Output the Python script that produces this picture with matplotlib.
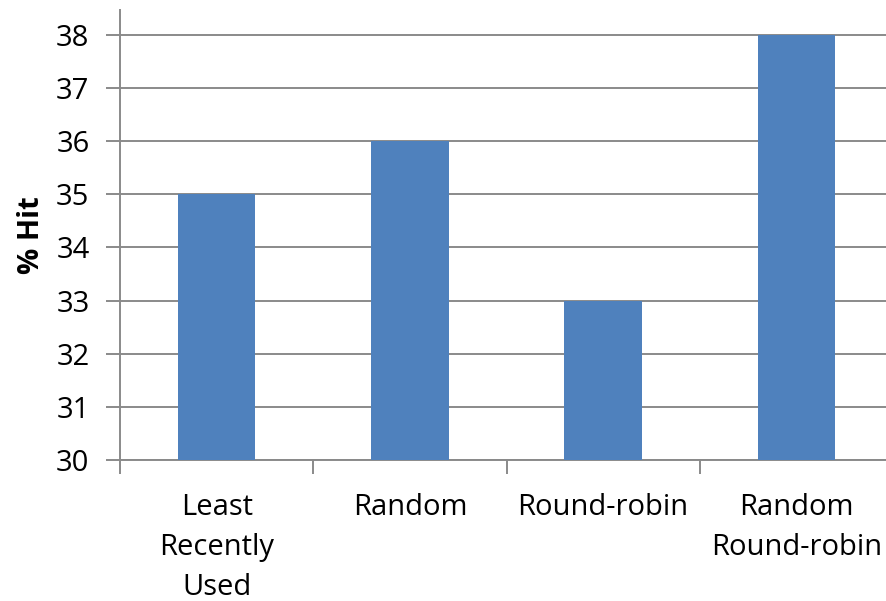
import matplotlib
matplotlib.use("Agg")
import matplotlib.pyplot as plt

policies = ["Least\nRecently\nUsed", "Random", "Round-robin", "Random\nRound-robin"]
hit_pct = [35, 36, 33, 38]
y_ticks = [30, 31, 32, 33, 34, 35, 36, 37, 38]

plt.rcParams["font.family"] = ["Open Sans", "DejaVu Sans"]

fig = plt.figure(figsize=(8.86, 6.01), dpi=100)
ax = fig.add_axes([120 / 886, 141 / 601, 773 / 886, 450 / 601])

grey = "#8a8a8a"
x = range(len(policies))
ax.bar(x, hit_pct, width=0.4, color="#4f81bd", zorder=3)

ax.set_xlim(-0.5, len(policies) - 0.5)
ax.set_ylim(30, 38.47)
ax.set_yticks(y_ticks)
ax.yaxis.grid(True, color=grey, linewidth=1.4, zorder=0)

# category ticks sit between the bars
ax.set_xticks([i - 0.5 for i in range(len(policies) + 1)])
ax.set_xticklabels([])
ax.set_xticks(list(x), labels=policies, minor=True)
ax.tick_params(axis="x", which="major", length=10, width=1.4, color=grey, direction="out")
ax.tick_params(axis="x", which="minor", length=0, pad=24, labelsize=21)
ax.tick_params(axis="y", length=10, width=1.4, color=grey, labelsize=21, pad=12)
for lbl in ax.get_xticklabels(minor=True):
    lbl.set_linespacing(1.5)

for side in ("top", "right"):
    ax.spines[side].set_visible(False)
for side in ("left", "bottom"):
    ax.spines[side].set_color(grey)
    ax.spines[side].set_linewidth(1.4)

ax.set_ylabel("% Hit", fontsize=21, fontweight="bold", labelpad=7)

fig.savefig("out.png", dpi=100)
